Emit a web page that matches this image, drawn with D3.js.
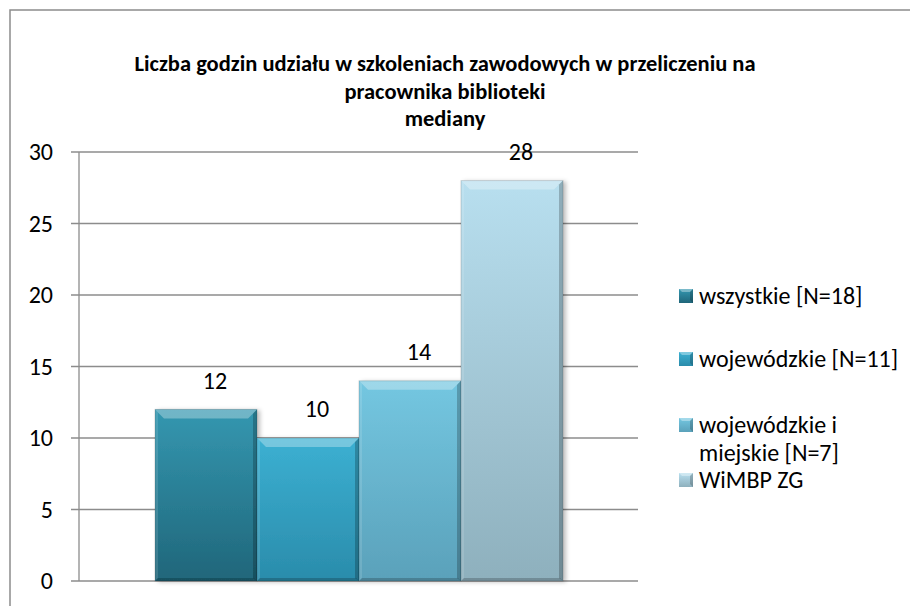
<!DOCTYPE html>
<html lang="pl">
<head>
<meta charset="UTF-8">
<script src="https://d3js.org/d3.v7.min.js"></script>
<style>
    body { margin: 0; background: #fff; }
    svg text { font-family: Carlito, "Open Sans", "Liberation Sans", sans-serif; fill: #000; }
</style>
</head>
<body>
<svg id="chart" width="910" height="606"></svg>
<script>
// data
const series = ["wszystkie [N=18]", "wojewódzkie [N=11]", "wojewódzkie i\nmiejskie [N=7]", "WiMBP ZG"];
const values = [12, 10, 14, 28];
const yTicks = [0, 5, 10, 15, 20, 25, 30];
const titleLines = ["Liczba godzin udziału w szkoleniach zawodowych w przeliczeniu na", "pracownika biblioteki", "mediany"];

// colours: top, bottom of gradient per series
const colTop = ["#3497b0", "#3cb0d2", "#74c7e1", "#b8dfef"];
const colBot = ["#20667a", "#2a8cab", "#5aa1ba", "#8eb0bd"];

const svg = d3.select("#chart");
const plot = { left: 79, right: 638, top: 152, bottom: 581 };

// outer frame
svg.append("rect")
    .attr("x", 10).attr("y", 10)
    .attr("width", 930).attr("height", 620)
    .attr("fill", "#fff").attr("stroke", "#8c8c8c").attr("stroke-width", 1.5);

const y = d3.scaleLinear().domain([0, 30]).range([plot.bottom, plot.top]);
const x = d3.scaleBand().domain(series).range([155, 563]).padding(0);

const defs = svg.append("defs");
series.forEach((s, i) => {
    const g = defs.append("linearGradient").attr("id", "g" + i)
        .attr("x1", 0).attr("y1", 0).attr("x2", 0).attr("y2", 1);
    g.append("stop").attr("offset", "0%").attr("stop-color", colTop[i]);
    g.append("stop").attr("offset", "100%").attr("stop-color", colBot[i]);
});
const sh = defs.append("filter").attr("id", "shadow").attr("x", "-20%").attr("y", "-20%").attr("width", "140%").attr("height", "140%");
sh.append("feDropShadow").attr("dx", 3).attr("dy", 1).attr("stdDeviation", 2).attr("flood-opacity", 0.25);

// gridlines
svg.append("g")
    .selectAll("line").data(yTicks).join("line")
    .attr("x1", plot.left - 8).attr("x2", plot.right)
    .attr("y1", d => y(d)).attr("y2", d => y(d))
    .attr("stroke", "#8c8c8c").attr("stroke-width", 1.3);

svg.append("line")
    .attr("x1", plot.left).attr("x2", plot.left)
    .attr("y1", plot.top).attr("y2", plot.bottom)
    .attr("stroke", "#8c8c8c").attr("stroke-width", 1.3);

// y tick labels
svg.append("g")
    .selectAll("text").data(yTicks).join("text")
    .attr("x", 53).attr("y", d => y(d))
    .attr("dy", "0.35em")
    .attr("text-anchor", "end")
    .style("font-size", "24px")
    .text(d => d);

// bars with bevel
const bev = 9;
const bars = svg.append("g").selectAll("g").data(values).join("g")
    .attr("filter", "url(#shadow)");
bars.each(function(v, i) {
    const g = d3.select(this);
    const x0 = x(series[i]), x1 = x0 + x.bandwidth();
    const y0 = y(v), y1 = y(0);
    g.append("rect").attr("x", x0).attr("y", y0)
        .attr("width", x1 - x0).attr("height", y1 - y0)
        .attr("fill", "url(#g" + i + ")");
    // top highlight
    g.append("polygon")
        .attr("points", [[x0, y0], [x1, y0], [x1 - bev, y0 + bev], [x0 + bev, y0 + bev]].join(" "))
        .attr("fill", "#fff").attr("opacity", 0.3);
    // left edge
    g.append("polygon")
        .attr("points", [[x0, y0], [x0 + 3, y0 + 3], [x0 + 3, y1 - 3], [x0, y1]].join(" "))
        .attr("fill", "#fff").attr("opacity", 0.12);
    // right edge
    g.append("polygon")
        .attr("points", [[x1, y0], [x1 - 4, y0 + 4], [x1 - 4, y1 - 3], [x1, y1]].join(" "))
        .attr("fill", "#000").attr("opacity", 0.22);
    // bottom edge
    g.append("polygon")
        .attr("points", [[x0, y1], [x1, y1], [x1 - 3, y1 - 3], [x0 + 3, y1 - 3]].join(" "))
        .attr("fill", "#000").attr("opacity", 0.2);
    g.append("rect").attr("x", x0).attr("y", y0)
        .attr("width", x1 - x0).attr("height", y1 - y0)
        .attr("fill", "none").attr("stroke", "#000").attr("stroke-opacity", 0.15).attr("stroke-width", 1);
});

// value labels
svg.append("g").selectAll("text").data(values).join("text")
    .attr("x", (d, i) => x(series[i]) + x.bandwidth() / 2 + 9)
    .attr("y", d => y(d) - 29)
    .attr("dy", "0.35em")
    .attr("text-anchor", "middle")
    .style("font-size", "24px")
    .text(d => d);

// title
svg.append("text")
    .attr("text-anchor", "middle")
    .style("font-size", "22.5px").style("font-weight", "bold")
    .selectAll("tspan").data(titleLines).join("tspan")
    .attr("x", 445)
    .attr("y", (d, i) => 71 + i * 27.5)
    .text(d => d);

// legend
const legY = [296, 359, 425, 480];
const leg = svg.append("g");
series.forEach((s, i) => {
    const g = leg.append("g").attr("transform", `translate(679, ${legY[i]})`);
    g.append("rect").attr("x", 0).attr("y", -7).attr("width", 14).attr("height", 14)
        .attr("fill", "url(#g" + i + ")");
    g.append("polygon").attr("points", "0,-7 14,-7 11,-4 3,-4").attr("fill", "#fff").attr("opacity", 0.35);
    g.append("polygon").attr("points", "14,-7 14,7 11,4 11,-4").attr("fill", "#000").attr("opacity", 0.2);
    g.append("text").attr("x", 20)
        .style("font-size", "24px")
        .selectAll("tspan").data(s.split("\n")).join("tspan")
        .attr("x", 20).attr("y", (d, j) => j * 28)
        .attr("dy", "0.35em")
        .text(d => d);
});
</script>
</body>
</html>
